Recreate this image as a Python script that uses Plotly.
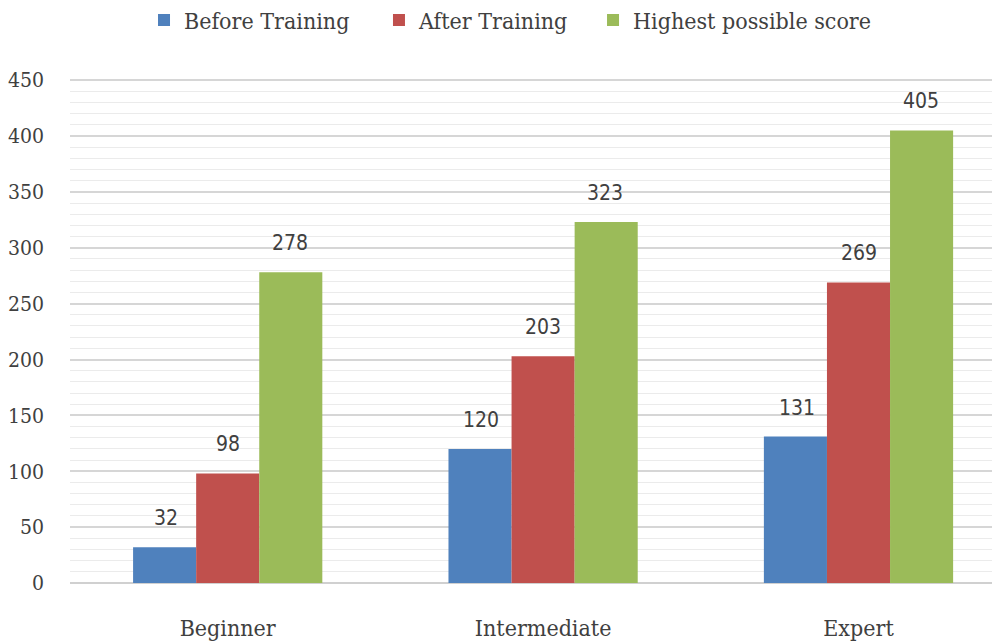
import plotly.graph_objects as go

categories = ["Beginner", "Intermediate", "Expert"]
before = [32, 120, 131]
after = [98, 203, 269]
highest = [278, 323, 405]
series_names = ["Before Training", "After Training", "Highest possible score"]
colors = ["#4F81BD", "#C0504D", "#9BBB59"]
y_ticks = [0, 50, 100, 150, 200, 250, 300, 350, 400, 450]

SERIF = "DejaVu Serif Condensed, DejaVu Serif, serif"

legend_ids = ["legend", "legend2", "legend3"]
legend_x = [0.0789, 0.3294, 0.5576]

fig = go.Figure()
for name, vals, col, lg in zip(series_names, [before, after, highest], colors, legend_ids):
    fig.add_trace(go.Bar(
        x=categories, y=vals, name=name, legend=lg,
        marker=dict(color=col, line=dict(width=0)),
    ))

offsets = [-62, 0, 62]
for vals, off in zip([before, after, highest], offsets):
    for c, v in zip(categories, vals):
        fig.add_annotation(x=c, y=v, text=str(v), showarrow=False, xref="x", yref="y",
                           xshift=off, yshift=15, yanchor="bottom",
                           font=dict(family="DejaVu Sans Condensed, DejaVu Sans", size=21, color="#404040"))

legend_common = dict(orientation="h", xanchor="left", y=1.117, yref="paper", yanchor="middle",
                     font=dict(family=SERIF, size=23, color="#404040"),
                     itemwidth=30, bgcolor="rgba(0,0,0,0)")

fig.update_layout(
    width=1000, height=643,
    margin=dict(l=62, r=0, t=71, b=68, autoexpand=False),
    plot_bgcolor="white", paper_bgcolor="white",
    barmode="group", bargap=0.4, bargroupgap=0,
    showlegend=True,
    legend=dict(x=legend_x[0], **legend_common),
    legend2=dict(x=legend_x[1], **legend_common),
    legend3=dict(x=legend_x[2], **legend_common),
    xaxis=dict(range=[-0.5, 2.474], showgrid=False, showline=False, ticks="", automargin=False,
               tickfont=dict(family=SERIF, size=23, color="#404040"),
               ticklabelstandoff=29),
    yaxis=dict(range=[0, 451], tickvals=y_ticks, showline=False, zeroline=True, automargin=False,
               zerolinecolor="#D0D0D0", zerolinewidth=2,
               gridcolor="#D6D6D6", gridwidth=2,
               minor=dict(dtick=10, showgrid=True, gridcolor="#EBEBEB", gridwidth=1),
               tickfont=dict(family=SERIF, size=21, color="#404040"),
               ticklabelstandoff=25),
)

fig.write_html("out.html")
